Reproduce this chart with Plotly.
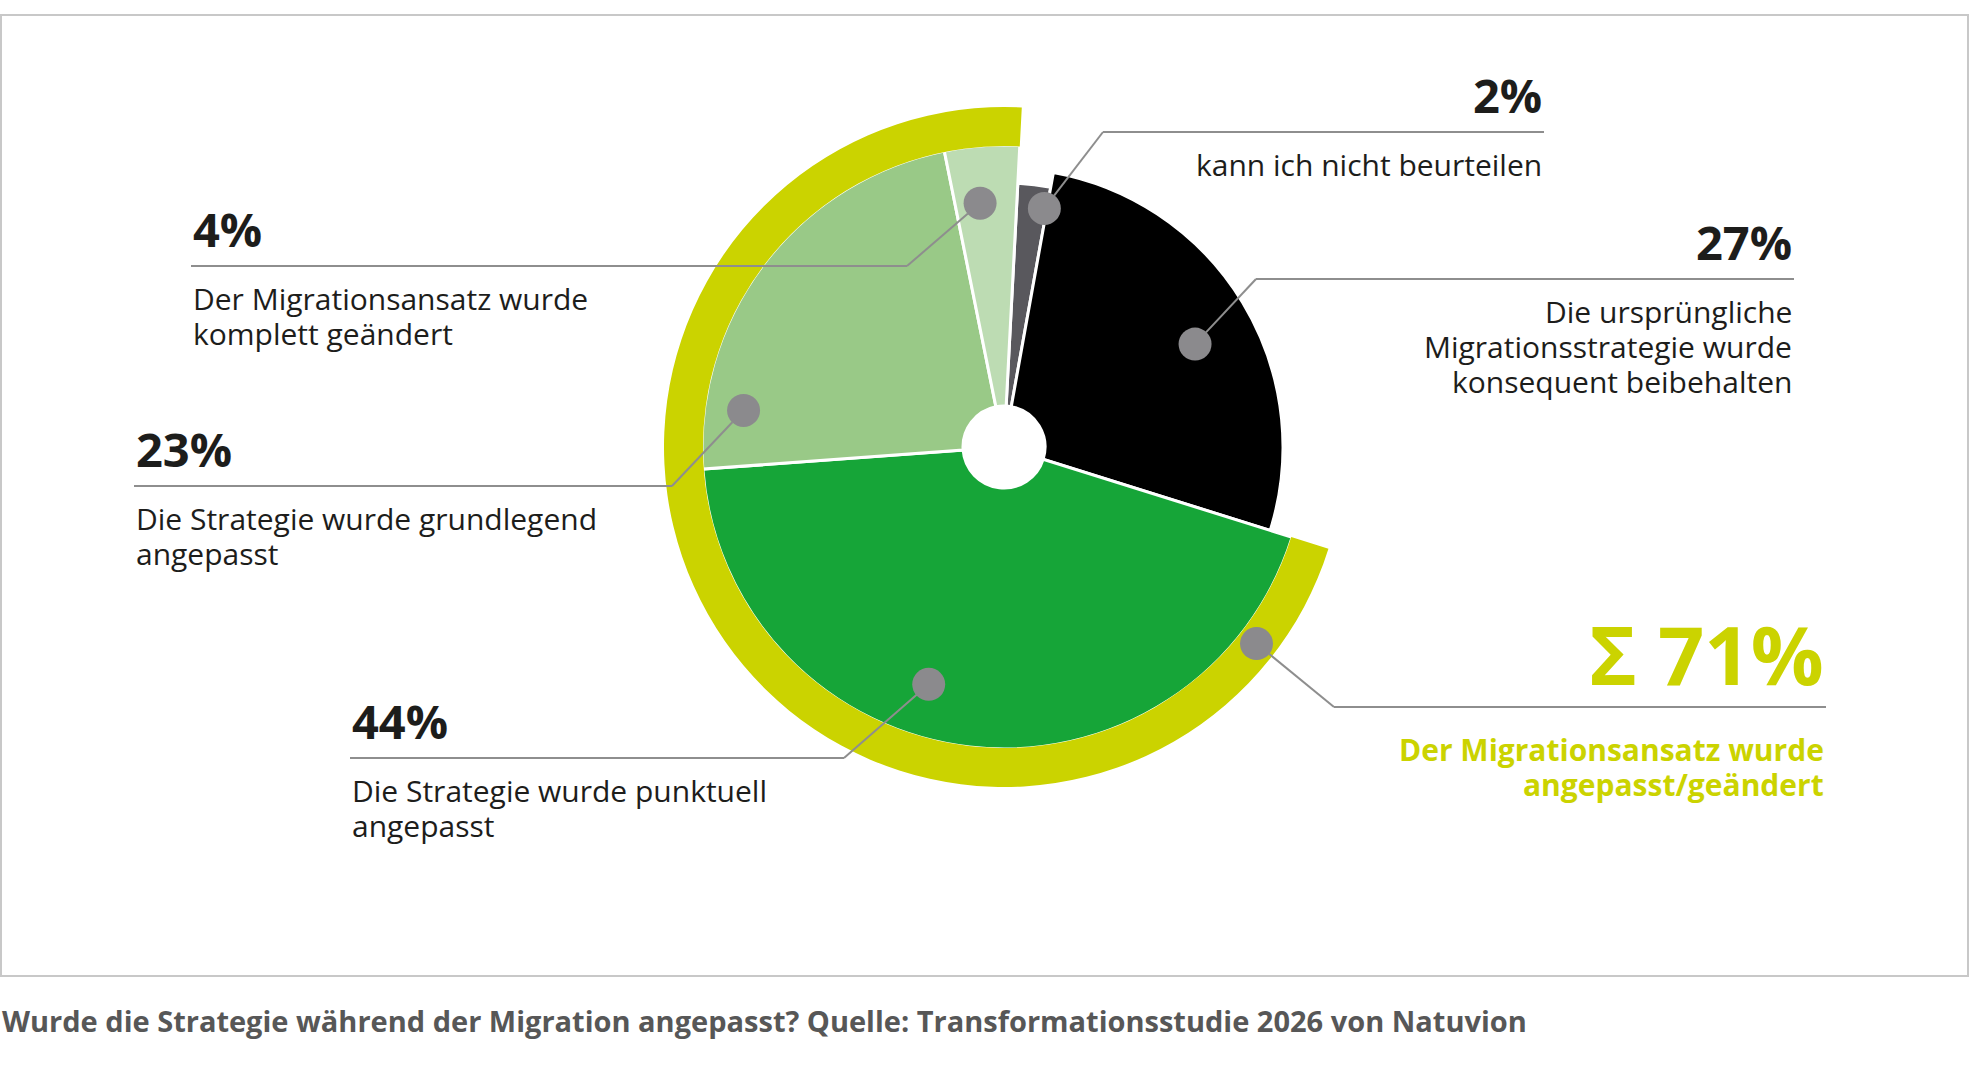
import numpy as np
import plotly.graph_objects as go

# ---- data ----
answers = [
    "kann ich nicht beurteilen",
    "Die ursprüngliche Migrationsstrategie wurde konsequent beibehalten",
    "Die Strategie wurde punktuell angepasst",
    "Die Strategie wurde grundlegend angepasst",
    "Der Migrationsansatz wurde komplett geändert",
]
shares = [2, 27, 44, 23, 4]
changed = [False, False, True, True, True]
label_lines = [
    ["kann ich nicht beurteilen"],
    ["Die ursprüngliche", "Migrationsstrategie wurde", "konsequent beibehalten"],
    ["Die Strategie wurde punktuell", "angepasst"],
    ["Die Strategie wurde grundlegend", "angepasst"],
    ["Der Migrationsansatz wurde", "komplett geändert"],
]
sum_lines = ["Der Migrationsansatz wurde", "angepasst/geändert"]
caption = ("Wurde die Strategie während der Migration angepasst? "
           "Quelle: Transformationsstudie 2026 von Natuvion")

# ---- styling ----
W, H = 1970, 1080
CX, CY = 1004, 447          # pie centre in px
RMAX = 345                  # radial range == px
HOLE = 41
colors = ["#59585d", "#000000", "#16a538", "#99c987", "#bddcb3"]
outer = [264, 279, 302, 302, 302]
RING_IN, RING_OUT = 301, 340
YELLOW = "#cbd300"
DOT = "#8b8a8d"
LINE = "#8e8e8e"
TXT = "#1d1d1b"
FONT = "Open Sans"
START = 3

# callouts: dot (theta, r), elbow (x, y), end x, side
callouts = [
    dict(dot=(9.6, 242), elbow=(1103, 132), end=1544, side="right"),
    dict(dot=(61.7, 217), elbow=(1256, 279), end=1794, side="right"),
    dict(dot=(197.6, 249), elbow=(844, 758), end=350, side="left"),
    dict(dot=(278.0, 263), elbow=(672, 486), end=134, side="left"),
    dict(dot=(354.4, 245), elbow=(907, 266), end=191, side="left"),
]
sum_callout = dict(dot=(127.9, 320), elbow=(1334, 707), end=1826, side="right")

widths = np.array(shares) * 3.6
edges = START + np.concatenate([[0], np.cumsum(widths)])
mids = (edges[:-1] + edges[1:]) / 2

ch_idx = [i for i, c in enumerate(changed) if c]
ring_start = edges[ch_idx[0]]
ring_width = sum(widths[i] for i in ch_idx)
sum_share = sum(shares[i] for i in ch_idx)

fig = go.Figure()

fig.add_trace(go.Barpolar(
    theta=mids, width=widths, base=HOLE,
    r=[o - HOLE for o in outer],
    marker=dict(color=colors, line=dict(color="white", width=3)),
    hovertext=answers, hoverinfo="text",
))
fig.add_trace(go.Barpolar(
    theta=[ring_start + ring_width / 2], width=[ring_width],
    base=RING_IN, r=[RING_OUT - RING_IN],
    marker=dict(color=YELLOW, line=dict(width=0)),
    hoverinfo="skip",
))
all_call = callouts + [sum_callout]
fig.add_trace(go.Scatterpolar(
    theta=[c["dot"][0] for c in all_call], r=[c["dot"][1] for c in all_call],
    mode="markers", marker=dict(size=33, color=DOT),
    hoverinfo="skip",
))


def px(x, y):
    return x / W, 1 - y / H


def dot_px(theta, r):
    t = np.radians(theta)
    return CX + r * np.sin(t), CY - r * np.cos(t)


shapes = []
annotations = []

shapes.append(dict(type="rect", xref="paper", yref="paper",
                   x0=1 / W, x1=1 - 2 / W, y0=1 - 976 / H, y1=1 - 15 / H,
                   line=dict(color="#c8c8c8", width=2)))


def add_callout(c, pct_text, lines, pct_size, pct_color, txt_size, txt_color,
                txt_weight, pct_dy, txt_dy, gap):
    dx, dy = dot_px(*c["dot"])
    ex, ey = c["elbow"]
    v = np.array([ex - dx, ey - dy])
    v = v / np.linalg.norm(v)
    sx, sy = dx + v[0] * 16, dy + v[1] * 16
    for (a, b), (p, q) in [((sx, sy), (ex, ey)), ((ex, ey), (c["end"], ey))]:
        x0, y0 = px(a, b)
        x1, y1 = px(p, q)
        shapes.append(dict(type="line", xref="paper", yref="paper",
                           x0=x0, y0=y0, x1=x1, y1=y1,
                           line=dict(color=LINE, width=2)))
    anchor = c["side"]
    xa, ya = px(c["end"], ey + pct_dy)
    annotations.append(dict(x=xa, y=ya, xref="paper", yref="paper",
                            text=pct_text, showarrow=False,
                            xanchor=anchor, yanchor="middle",
                            font=dict(family=FONT, size=pct_size,
                                      color=pct_color, weight="bold")))
    for k, line in enumerate(lines):
        xa, ya = px(c["end"], ey + txt_dy + k * gap)
        annotations.append(dict(x=xa, y=ya, xref="paper", yref="paper",
                                text=line, showarrow=False,
                                xanchor=anchor, yanchor="middle",
                                font=dict(family=FONT, size=txt_size,
                                          color=txt_color, weight=txt_weight)))


for c, s, lines in zip(callouts, shares, label_lines):
    add_callout(c, f"{s}%", lines, 47, TXT, 30, TXT, "normal", -37, 32, 35)

add_callout(sum_callout, f"Σ {sum_share}%", sum_lines, 81, YELLOW, 30,
            YELLOW, "bold", -54, 42, 35)

annotations.append(dict(x=0, y=1 - 1020 / H, xref="paper", yref="paper",
                        text=caption, showarrow=False,
                        xanchor="left", yanchor="middle",
                        font=dict(family=FONT, size=29, color="#575757",
                                  weight="bold")))

fig.update_layout(
    width=W, height=H,
    margin=dict(l=0, r=0, t=0, b=0),
    paper_bgcolor="white",
    showlegend=False,
    polar=dict(
        domain=dict(x=[(CX - RMAX) / W, (CX + RMAX) / W],
                    y=[(H - CY - RMAX) / H, (H - CY + RMAX) / H]),
        bgcolor="white",
        barmode="overlay",
        radialaxis=dict(range=[0, RMAX], visible=False),
        angularaxis=dict(rotation=90, direction="clockwise", visible=False),
    ),
    shapes=shapes,
    annotations=annotations,
)

fig.write_html("out.html", config={"displayModeBar": False},
               post_script="document.body.style.margin='0';")
